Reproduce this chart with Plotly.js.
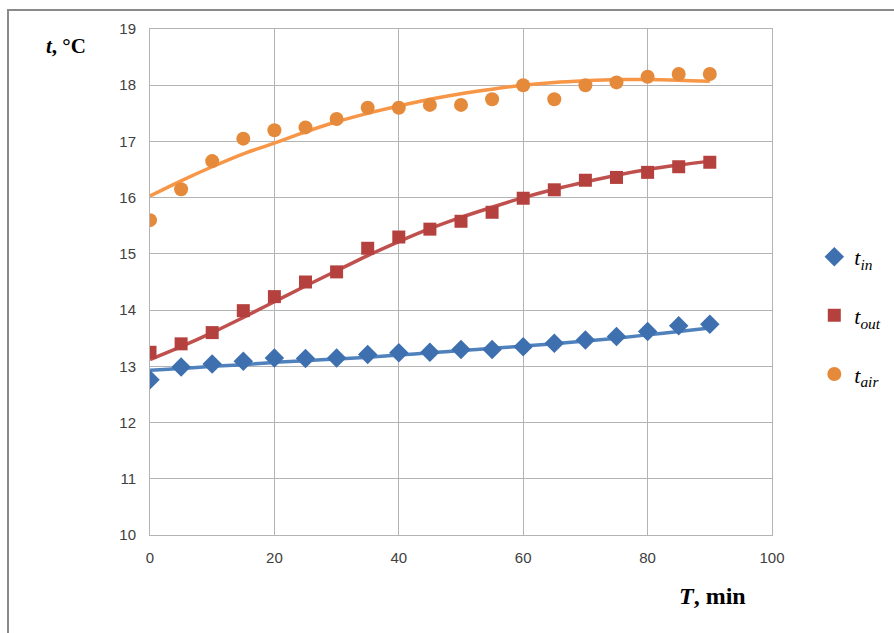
<!DOCTYPE html>
<html><head><meta charset="utf-8">
<script src="https://cdn.plot.ly/plotly-3.0.1.min.js"></script>
<style>
html,body{margin:0;padding:0;background:#fff;overflow:hidden;}
#frame{position:absolute;left:7px;top:9px;width:1000px;height:1000px;border:2px solid #8a8a8a;box-sizing:border-box;pointer-events:none;z-index:5;}
#chart{position:absolute;left:0;top:0;width:894px;height:633px;}
</style></head>
<body>
<div id="chart"></div>
<div id="frame"></div>
<script>
// data points
const timeMin = [0,5,10,15,20,25,30,35,40,45,50,55,60,65,70,75,80,85,90];
const tIn  = [12.76,12.99,13.04,13.09,13.15,13.14,13.15,13.21,13.24,13.25,13.30,13.30,13.35,13.41,13.47,13.53,13.62,13.72,13.75];
const tOut = [13.25,13.40,13.60,13.99,14.24,14.50,14.68,15.10,15.30,15.44,15.58,15.74,15.99,16.14,16.31,16.36,16.45,16.55,16.63];
const tAir = [15.60,16.15,16.65,17.05,17.20,17.25,17.40,17.60,17.60,17.65,17.65,17.75,18.00,17.75,18.00,18.05,18.15,18.20,18.20];
// trendlines
const trendX = [0,5,10,15,20,25,30,35,40,45,50,55,60,65,70,75,80,85,90];
const trendIn  = [12.93,12.96,13.00,13.03,13.07,13.10,13.13,13.16,13.20,13.24,13.28,13.32,13.36,13.40,13.45,13.50,13.56,13.62,13.68];
const trendOut = [13.12,13.35,13.60,13.87,14.15,14.43,14.70,14.97,15.22,15.45,15.65,15.83,16.00,16.15,16.28,16.40,16.50,16.58,16.65];
const trendAir = [16.03,16.30,16.55,16.78,16.97,17.17,17.35,17.50,17.63,17.75,17.85,17.93,18.00,18.05,18.08,18.10,18.10,18.09,18.07];
const names = ['<i>t</i><sub><i>in</i></sub>','<i>t</i><sub><i>out</i></sub>','<i>t</i><sub><i>air</i></sub>'];
const lineColors = ['#4F81BD','#C0504D','#F79646'];
const markColors = ['#3E70B0','#B5413E','#E58A3A'];

const traces = [
  {x:trendX,y:trendIn,mode:'lines',line:{color:lineColors[0],width:3.5,shape:'spline'},showlegend:false,hoverinfo:'skip'},
  {x:trendX,y:trendOut,mode:'lines',line:{color:lineColors[1],width:3.5,shape:'spline'},showlegend:false,hoverinfo:'skip'},
  {x:trendX,y:trendAir,mode:'lines',line:{color:lineColors[2],width:3.5,shape:'spline'},showlegend:false,hoverinfo:'skip'},
  {x:timeMin,y:tIn,mode:'markers',name:names[0],legendgroup:'a',marker:{symbol:'diamond',size:15,color:markColors[0]}},
  {x:timeMin,y:tOut,mode:'markers',name:names[1],legendgroup:'b',marker:{symbol:'square',size:13,color:markColors[1]}},
  {x:timeMin,y:tAir,mode:'markers',name:names[2],legendgroup:'c',marker:{symbol:'circle',size:14,color:markColors[2]}}
];

const layout = {
  width:894,height:633,
  margin:{l:150,r:122,t:29,b:98,autoexpand:false},
  paper_bgcolor:'#fff',plot_bgcolor:'#fff',
  xaxis:{range:[0,100],dtick:20,tick0:0,showgrid:true,gridcolor:'#b3b3b3',gridwidth:1,zeroline:false,automargin:false,
         showline:true,linecolor:'#b3b3b3',mirror:true,ticks:'outside',ticklen:9,tickcolor:'rgba(0,0,0,0)',
         tickfont:{family:'Liberation Sans, Arial',size:15,color:'#404040'}},
  yaxis:{range:[10,19],dtick:1,tick0:10,showgrid:true,gridcolor:'#b3b3b3',gridwidth:1,zeroline:false,automargin:false,
         showline:true,linecolor:'#b3b3b3',mirror:true,ticks:'outside',ticklen:10,tickcolor:'rgba(0,0,0,0)',
         tickfont:{family:'Liberation Sans, Arial',size:15,color:'#404040'}},
  legend:{x:1.068,y:0.591,xanchor:'left',yanchor:'top',bgcolor:'rgba(0,0,0,0)',
          font:{family:'Liberation Serif, Times New Roman',size:22,color:'#000'},
          tracegroupgap:27,itemwidth:30},
  annotations:[
    {xref:'paper',yref:'paper',x:-0.135,y:0.999,xanchor:'center',yanchor:'middle',showarrow:false,
     text:'<b><i>t</i>, °C</b>',font:{family:'Liberation Serif, Times New Roman',size:21,color:'#000'},yshift:-16},
    {xref:'paper',yref:'paper',x:0.905,y:0,xanchor:'center',yanchor:'top',showarrow:false,
     text:'<b><i>T</i>, min</b>',font:{family:'Liberation Serif, Times New Roman',size:24,color:'#000'},yshift:-46}
  ]
};
Plotly.newPlot('chart',traces,layout,{displayModeBar:false,staticPlot:true});
</script>
</body></html>
